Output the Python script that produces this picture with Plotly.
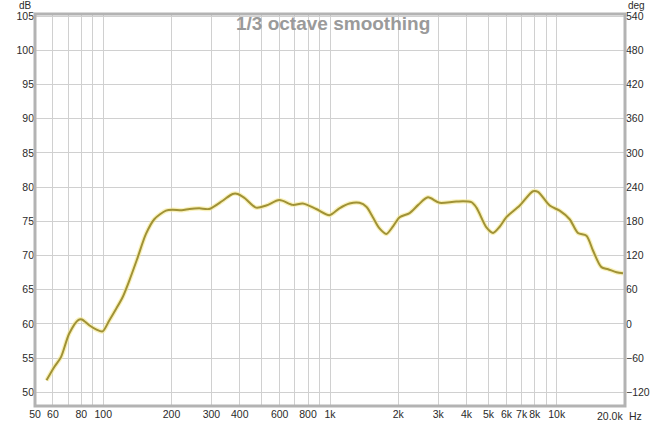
import math
import plotly.graph_objects as go

# ---- data ----
freq_hz = [56.2, 60.8, 65.1, 70.8, 77.8, 80.5, 86.7, 93.0, 99.3, 106.3, 113.0, 121.7, 130.2, 141.8,
           154.3, 167.9, 189, 202, 222, 240, 265, 293, 336, 372, 392, 420, 472, 523, 598, 685,
           759, 869, 995, 1100, 1219, 1349, 1450, 1545, 1650, 1771, 1900, 2028, 2244, 2450,
           2704, 3044, 3606, 4200, 4425, 4897, 5237, 5600, 5998, 6870, 7860, 8270, 9310,
           10300, 11400, 12400, 13520, 14460, 15740, 16850, 18350, 19600]
spl_db = [51.75, 53.7, 55.15, 58.6, 60.6, 60.65, 59.8, 59.2, 58.9, 60.5, 62.0, 63.9, 66.3, 69.7,
          73.15, 75.3, 76.55, 76.7, 76.6, 76.8, 76.9, 76.8, 78.0, 79.0, 79.0, 78.4, 77.0, 77.3, 78.1, 77.4,
          77.6, 76.8, 75.9, 76.9, 77.6, 77.7, 77.1, 75.6, 74.0, 73.15, 74.3, 75.6, 76.2, 77.4,
          78.5, 77.7, 77.9, 77.8, 77.0, 74.1, 73.3, 74.2, 75.6, 77.3, 79.4, 79.3, 77.3,
          76.55, 75.3, 73.3, 72.9, 70.7, 68.3, 68.0, 67.55, 67.4]

x_grid_vals = [60, 70, 80, 90, 100, 200, 300, 400, 500, 600, 700, 800, 900, 1000,
               2000, 3000, 4000, 5000, 6000, 7000, 8000, 9000, 10000]
x_label_text = {50: "50", 60: "60", 80: "80", 100: "100", 200: "200", 300: "300", 400: "400",
                600: "600", 800: "800", 1000: "1k", 2000: "2k", 3000: "3k", 4000: "4k",
                5000: "5k", 6000: "6k", 7000: "7k", 8000: "8k", 10000: "10k"}
x_end_label = "20.0k"
x_unit = "Hz"
db_ticks = [50, 55, 60, 65, 70, 75, 80, 85, 90, 95, 100, 105]
deg_ticks = [-120, -60, 0, 60, 120, 180, 240, 300, 360, 420, 480, 540]

title_text = "1/3 octave smoothing"

db_range = [48.0, 105.3]
deg_range = [(db_range[0] - 50) * 12 - 120, (db_range[1] - 50) * 12 - 120]

x_tick_vals = [50] + x_grid_vals
x_tick_text = [x_label_text.get(v, "") for v in x_tick_vals]

FONT = "Liberation Sans, Arial, sans-serif"
GRID = "#d0d0d0"
PLOT_H = 425 - 14 - 19

fig = go.Figure()
fig.add_trace(go.Scatter(x=freq_hz, y=spl_db, mode="lines",
                         line=dict(color="rgba(245,232,140,0.6)", width=4.5, shape="spline", smoothing=0.8),
                         hoverinfo="skip", showlegend=False))
fig.add_trace(go.Scatter(x=freq_hz, y=spl_db, mode="lines",
                         line=dict(color="#a09236", width=2, shape="spline", smoothing=0.8),
                         showlegend=False))
fig.add_trace(go.Scatter(x=[None], y=[None], yaxis="y2", showlegend=False, hoverinfo="skip"))

fig.update_layout(
    template="none",
    width=668, height=425,
    margin=dict(l=35, r=43, t=14, b=19, pad=0),
    paper_bgcolor="white", plot_bgcolor="white",
    font=dict(family=FONT, size=10.5, color="#2a2a2a"),
    showlegend=False,
    xaxis=dict(type="log", range=[math.log10(50), math.log10(20000)], automargin=False,
               tickmode="array", tickvals=x_tick_vals, ticktext=x_tick_text, tickangle=0,
               showgrid=True, gridcolor=GRID, gridwidth=1, zeroline=False,
               ticks="", ticklen=0, showline=False),
    yaxis=dict(range=db_range, tickmode="array", tickvals=db_ticks, automargin=False,
               showgrid=True, gridcolor=GRID, gridwidth=1, zeroline=False,
               ticks="", showline=False),
    yaxis2=dict(range=deg_range, overlaying="y", side="right", anchor="x", automargin=False,
                tickmode="array", tickvals=deg_ticks, showgrid=False, zeroline=False,
                ticks="", showline=False),
    shapes=[dict(type="rect", xref="paper", yref="paper", x0=0, x1=1, y0=0, y1=1,
                 line=dict(color="#b3b3b3", width=3))],
    annotations=[
        dict(text=title_text, xref="paper", yref="paper", x=0.505, y=1 - 9 / PLOT_H,
             xanchor="center", yanchor="middle", showarrow=False,
             font=dict(family=FONT, size=19, color="#9a9a9a", weight="bold")),
        dict(text="dB", xref="paper", yref="paper", x=-0.004, y=1 + 15.5 / PLOT_H, xanchor="right",
             yanchor="top", showarrow=False, borderpad=0, font=dict(size=10)),
        dict(text="deg", xref="paper", yref="paper", x=1.0, y=1 + 15.5 / PLOT_H, xanchor="left",
             yanchor="top", showarrow=False, xshift=2, borderpad=0, font=dict(size=10)),
        dict(text=x_end_label, xref="paper", yref="paper", x=1.0, y=-3 / PLOT_H, xanchor="right",
             yanchor="top", showarrow=False, borderpad=0, xshift=-1),
        dict(text=x_unit, xref="paper", yref="paper", x=1.0, y=-3 / PLOT_H, xanchor="left",
             yanchor="top", showarrow=False, borderpad=0, xshift=3),
    ],
)

fig.write_html("out.html", config={"displayModeBar": False},
               post_script="document.body.style.margin='0';document.body.style.overflow='hidden';")
